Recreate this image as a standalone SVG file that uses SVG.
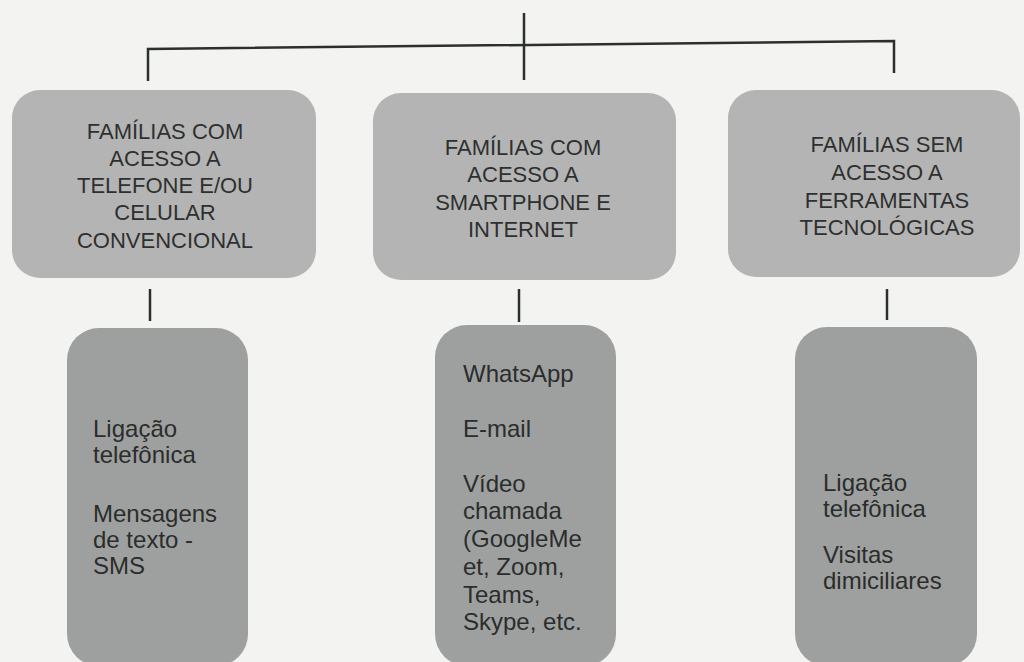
<svg xmlns="http://www.w3.org/2000/svg" width="1024" height="662" viewBox="0 0 1024 662">
<style>
.bg{fill:#f3f3f2}
.top{fill:#b4b4b4}
.bot{fill:#9ea09f}
.ln{stroke:#2b302f;stroke-width:2.5;fill:none}
.tt{font-family:"Liberation Sans",Arial,sans-serif;font-size:22px;fill:#2e3030;text-anchor:middle}
.bt{font-family:"Liberation Sans",Arial,sans-serif;font-size:24px;fill:#2a2d2c}
</style>
<rect class="bg" x="0" y="0" width="1024" height="662"/>
<g id="connectors">
<line class="ln" x1="524" y1="13" x2="524" y2="80"/>
<polyline class="ln" points="148,81 148,49 894,41 894,73"/>
<line class="ln" x1="150" y1="289" x2="150" y2="321"/>
<line class="ln" x1="519" y1="289" x2="519" y2="322"/>
<line class="ln" x1="887" y1="289" x2="887" y2="320"/>
</g>
<g id="n1">
<rect class="top" x="12" y="90" width="304" height="188" rx="28"/>
<text class="tt"><tspan x="165" y="139">FAMÍLIAS COM</tspan><tspan x="165" y="166">ACESSO A</tspan><tspan x="165" y="193">TELEFONE E/OU</tspan><tspan x="165" y="220">CELULAR</tspan><tspan x="165" y="248">CONVENCIONAL</tspan></text>
</g>
<g id="n2">
<rect class="top" x="373" y="93" width="303" height="187" rx="28"/>
<text class="tt"><tspan x="523" y="155">FAMÍLIAS COM</tspan><tspan x="523" y="182">ACESSO A</tspan><tspan x="523" y="210">SMARTPHONE E</tspan><tspan x="523" y="237">INTERNET</tspan></text>
</g>
<g id="n3">
<rect class="top" x="728" y="90" width="292" height="187" rx="28"/>
<text class="tt"><tspan x="887" y="152">FAMÍLIAS SEM</tspan><tspan x="887" y="180">ACESSO A</tspan><tspan x="887" y="208">FERRAMENTAS</tspan><tspan x="887" y="235">TECNOLÓGICAS</tspan></text>
</g>
<g id="n4">
<rect class="bot" x="67" y="328" width="181" height="338" rx="32"/>
<text class="bt"><tspan x="93" y="437">Ligação</tspan><tspan x="93" y="463">telefônica</tspan><tspan x="93" y="522">Mensagens</tspan><tspan x="93" y="548">de texto -</tspan><tspan x="93" y="574">SMS</tspan></text>
</g>
<g id="n5">
<rect class="bot" x="435" y="325" width="181" height="341" rx="32"/>
<text class="bt"><tspan x="463" y="382">WhatsApp</tspan><tspan x="463" y="437">E-mail</tspan><tspan x="463" y="492">Vídeo</tspan><tspan x="463" y="519">chamada</tspan><tspan x="463" y="547">(GoogleMe</tspan><tspan x="463" y="575">et, Zoom,</tspan><tspan x="463" y="603">Teams,</tspan><tspan x="463" y="630">Skype, etc.</tspan></text>
</g>
<g id="n6">
<rect class="bot" x="795" y="327" width="182" height="339" rx="32"/>
<text class="bt"><tspan x="823" y="491">Ligação</tspan><tspan x="823" y="517">telefônica</tspan><tspan x="823" y="563">Visitas</tspan><tspan x="823" y="589">dimiciliares</tspan></text>
</g>
</svg>
